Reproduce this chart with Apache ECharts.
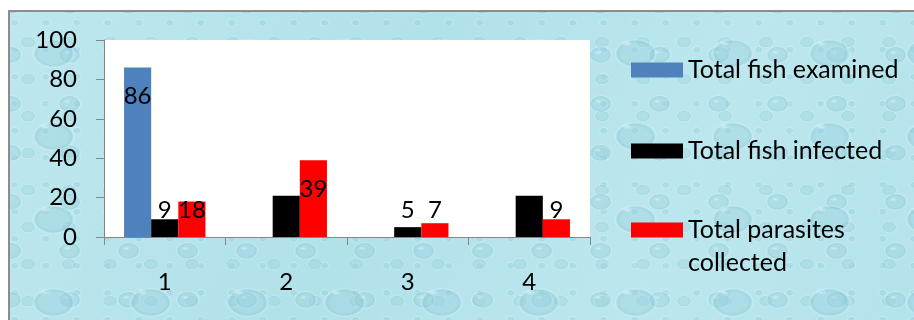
<!DOCTYPE html>
<html>
<head>
<meta charset="utf-8">
<title>Fish examined, infected and parasites collected</title>
<script src="https://cdn.jsdelivr.net/npm/echarts@6/dist/echarts.min.js"></script>
<style>
  html, body { margin: 0; padding: 0; background: #ffffff; }
  #wrap { position: relative; width: 914px; height: 320px; overflow: hidden; }
  /* water-drop backdrop behind the chart, framed by a grey edge */
  #water {
    position: absolute; left: 8px; top: 10px; width: 930px; height: 340px;
    border-left: 2px solid #8c8c8c; border-top: 2px solid #8c8c8c;
    background-color: #b8e5ed;
    background-image:
      radial-gradient(ellipse 6px 3px at 36% 38%, rgba(240,252,254,0.55), transparent 100%),
      radial-gradient(ellipse 22px 15px at 45% 50%, rgba(150,206,218,0.35) 0 65%, rgba(118,188,204,0.35) 82%, rgba(215,244,249,0.35) 92%, transparent 100%),
      radial-gradient(ellipse 4px 2px at 58% 60%, rgba(240,252,254,0.5), transparent 100%),
      radial-gradient(ellipse 12px 9px at 62% 65%, rgba(150,206,218,0.35) 0 62%, rgba(120,190,206,0.35) 80%, rgba(218,245,249,0.35) 92%, transparent 100%),
      radial-gradient(ellipse 8px 6px at 22% 30%, rgba(150,206,218,0.3) 0 60%, rgba(125,193,208,0.3) 80%, rgba(220,246,250,0.3) 92%, transparent 100%),
      radial-gradient(ellipse 5px 4px at 70% 25%, rgba(140,200,214,0.3) 0 60%, rgba(222,246,250,0.35) 85%, transparent 100%),
      linear-gradient(115deg, rgba(255,255,255,0.08), rgba(120,190,205,0.10) 40%, rgba(255,255,255,0.06) 70%, rgba(120,190,205,0.08));
    background-size: 97px 83px, 97px 83px, 59px 49px, 59px 49px, 41px 37px, 31px 27px, 100% 100%;
    background-position: 0 0, 0 0, 23px 11px, 23px 11px, 9px 19px, 14px 4px, 0 0;
  }
  #chart { position: absolute; left: 0; top: 0; width: 914px; height: 320px; }
</style>
</head>
<body>
<div id="wrap">
  <div id="water"></div>
  <div id="chart"></div>
</div>
<script>
// Categories along the x axis
const categories = ['1', '2', '3', '4'];

// Series values per category (null = no bar drawn)
const fishExamined = [86, null, null, null];
const fishInfected = [9, 21, 5, 21];
const parasitesCollected = [18, 39, 7, 9];

// Series names as shown in the legend
const seriesNames = ['Total fish examined', 'Total fish infected', 'Total parasites collected'];

// Value axis range
const yMin = 0;
const yMax = 100;
const yStep = 20;

const FONT = 'Lato, "Open Sans", sans-serif';
const TEXT_SIZE = 24;
const LEGEND_SIZE = 25;
const AXIS_GREY = '#868686';
const colors = ['#4f81bd', '#000000', '#ff0000'];

const chart = echarts.init(document.getElementById('chart'), null, { renderer: 'canvas' });

// One legend block per series so each swatch can sit beside the first line of its text
function legendFor(name, top) {
  return {
    data: [name],
    orient: 'vertical',
    left: 631,
    top: top,
    padding: 0,
    itemWidth: 52,
    itemHeight: 15,
    icon: 'rect',
    selectedMode: false,
    formatter: function (n) {
      // wrapped name: an empty leading line keeps the first text line level with the swatch
      return n === 'Total parasites collected' ? '\nTotal parasites\ncollected' : n;
    },
    textStyle: {
      fontFamily: FONT,
      fontSize: LEGEND_SIZE,
      color: '#000',
      lineHeight: 33
    }
  };
}

const baseOption = {
  backgroundColor: 'transparent',
  animation: false,
  textStyle: { fontFamily: FONT },
  grid: {
    left: 104, right: 324, top: 40, bottom: 83,
    show: true, backgroundColor: '#ffffff', borderWidth: 0,
    containLabel: false
  },
  legend: [
    legendFor(seriesNames[0], 53.5),
    legendFor(seriesNames[1], 134.5),
    legendFor(seriesNames[2], 180.5)
  ],
  xAxis: {
    type: 'category',
    data: categories,
    boundaryGap: true,
    axisLine: { show: true, lineStyle: { color: AXIS_GREY, width: 1 } },
    axisTick: { show: true, length: 8, lineStyle: { color: AXIS_GREY } },
    axisLabel: { color: '#000', fontFamily: FONT, fontSize: TEXT_SIZE, margin: 33 },
    splitLine: { show: false }
  },
  yAxis: {
    type: 'value',
    min: yMin, max: yMax, interval: yStep,
    axisLine: { show: true, lineStyle: { color: AXIS_GREY, width: 1 } },
    axisTick: { show: true, length: 8, lineStyle: { color: AXIS_GREY } },
    axisLabel: { color: '#000', fontFamily: FONT, fontSize: TEXT_SIZE, margin: 27 },
    splitLine: { show: false }
  },
  series: [fishExamined, fishInfected, parasitesCollected].map(function (vals, i) {
    return {
      name: seriesNames[i],
      type: 'bar',
      data: vals.map(function (v) { return v == null ? '-' : v; }),
      barGap: '0%',
      barCategoryGap: '33%',
      itemStyle: { color: colors[i] },
      label: {
        show: true,
        formatter: '{c}',
        color: '#000',
        fontFamily: FONT,
        fontSize: TEXT_SIZE,
        align: 'center',
        verticalAlign: 'middle'
      }
    };
  })
};

chart.setOption(baseOption);

// Value labels sit just inside the bar end, but never closer than 27px to the axis
const yZero = chart.convertToPixel({ yAxisIndex: 0 }, yMin);
const pxPerUnit = (yZero - chart.convertToPixel({ yAxisIndex: 0 }, yMax)) / (yMax - yMin);

function barItem(v) {
  if (v == null) return '-';
  const h = v * pxPerUnit;
  return { value: v, label: { position: ['50%', Math.min(29, h - 27)] } };
}

chart.setOption({
  series: [fishExamined, fishInfected, parasitesCollected].map(function (vals) {
    return { data: vals.map(barItem) };
  })
});
</script>
</body>
</html>
